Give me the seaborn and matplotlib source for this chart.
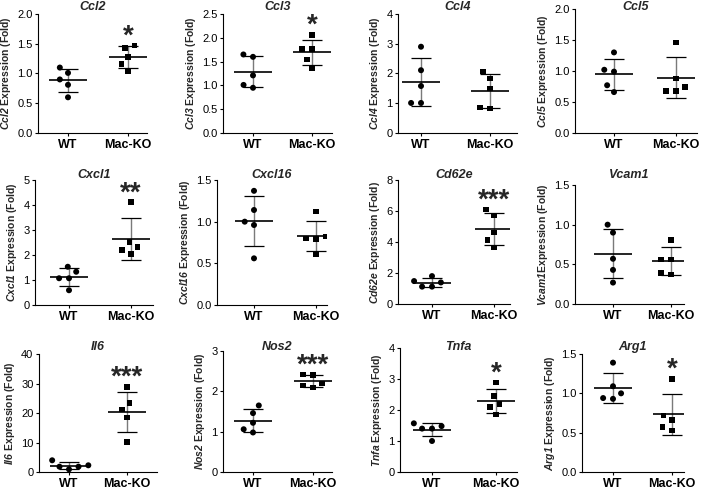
import numpy as np
import pandas as pd
import matplotlib
matplotlib.use('Agg')
import matplotlib.pyplot as plt
import seaborn as sns

# Gene names and significance marks
genes = ['Ccl2', 'Ccl3', 'Ccl4', 'Ccl5',
         'Cxcl1', 'Cxcl16', 'Cd62e', 'Vcam1',
         'Il6', 'Nos2', 'Tnfa', 'Arg1']
stars = ['*', '*', '', '', '**', '', '***', '', '***', '***', '*', '*']
groups = ['WT', 'Mac-KO']

# Fold expression values (5 mice per group)
ccl2_wt = [1.01, 1.10, 0.90, 0.81, 0.60]
ccl2_ko = [1.47, 1.43, 1.28, 1.16, 1.04]
ccl3_wt = [1.60, 1.65, 1.21, 0.95, 1.01]
ccl3_ko = [2.06, 1.76, 1.76, 1.54, 1.37]
ccl4_wt = [2.90, 2.11, 1.58, 1.01, 1.01]
ccl4_ko = [2.06, 1.83, 1.49, 0.82, 0.85]
ccl5_wt = [1.30, 1.02, 0.99, 0.77, 0.66]
ccl5_ko = [1.46, 0.88, 0.74, 0.68, 0.68]
cxcl1_wt = [1.53, 1.33, 1.07, 1.07, 0.59]
cxcl1_ko = [4.11, 2.53, 2.31, 2.20, 2.03]
cxcl16_wt = [1.37, 1.14, 1.00, 0.96, 0.56]
cxcl16_ko = [1.12, 0.80, 0.79, 0.82, 0.61]
cd62e_wt = [1.80, 1.39, 1.48, 1.12, 1.12]
cd62e_ko = [6.09, 5.71, 4.61, 4.12, 3.65]
vcam1_wt = [1.00, 0.90, 0.57, 0.43, 0.27]
vcam1_ko = [0.81, 0.56, 0.56, 0.37, 0.39]
il6_wt = [3.97, 1.81, 0.91, 1.81, 2.27]
il6_ko = [28.8, 23.3, 21.2, 18.4, 10.2]
nos2_wt = [1.65, 1.46, 1.22, 0.98, 1.06]
nos2_ko = [2.42, 2.40, 2.19, 2.10, 2.14]
tnfa_wt = [1.57, 1.40, 1.40, 1.48, 1.00]
tnfa_ko = [2.88, 2.45, 2.19, 2.10, 1.86]
arg1_wt = [1.39, 1.09, 1.00, 0.93, 0.94]
arg1_ko = [1.18, 0.72, 0.66, 0.57, 0.53]

wt_values = [ccl2_wt, ccl3_wt, ccl4_wt, ccl5_wt, cxcl1_wt, cxcl16_wt,
             cd62e_wt, vcam1_wt, il6_wt, nos2_wt, tnfa_wt, arg1_wt]
ko_values = [ccl2_ko, ccl3_ko, ccl4_ko, ccl5_ko, cxcl1_ko, cxcl16_ko,
             cd62e_ko, vcam1_ko, il6_ko, nos2_ko, tnfa_ko, arg1_ko]

# y axis ranges and tick steps
y_max = [2.0, 2.5, 4, 2.0, 5, 1.5, 8, 1.5, 40, 3, 4, 1.5]
y_step = [0.5, 0.5, 1, 0.5, 1, 0.5, 2, 0.5, 10, 1, 1, 0.5]

# panel boxes in pixels: left, top, right, bottom, WT centre, KO centre
boxes = [
    (38, 14, 147, 133, 68, 128),
    (223, 14, 332, 133, 253, 312),
    (398, 14, 517, 133, 421, 490),
    (575, 9, 697, 133, 614, 676),
    (35, 180, 153, 305, 69, 131),
    (217, 180, 327, 305, 254, 316),
    (398, 180, 510, 304, 432, 494),
    (575, 185, 684, 304, 613, 671),
    (39, 354, 157, 472, 69, 127),
    (223, 351, 332, 472, 253, 313),
    (400, 348, 517, 472, 432, 496),
    (582, 354, 684, 472, 613, 672),
]
# title centre height (px from top) for each row
title_y = [6.5, 175, 347]

sns.set_style('ticks')
plt.rcParams['font.family'] = ['Liberation Sans', 'DejaVu Sans']
plt.rcParams['mathtext.fontset'] = 'custom'
plt.rcParams['mathtext.rm'] = 'Liberation Sans'
plt.rcParams['mathtext.bf'] = 'Liberation Sans:bold'
plt.rcParams['mathtext.it'] = 'Liberation Sans:italic'
plt.rcParams['mathtext.bfit'] = 'Liberation Sans:italic:bold'

W, H = 708, 490
fig = plt.figure(figsize=(W / 100, H / 100), dpi=100)

for i, gene in enumerate(genes):
    l, t, r, b, xw, xk = boxes[i]
    ax = fig.add_axes([l / W, 1 - b / H, (r - l) / W, (b - t) / H])
    wt, ko = wt_values[i], ko_values[i]
    df = pd.DataFrame({'group': ['WT'] * len(wt) + ['Mac-KO'] * len(ko),
                       'value': wt + ko})

    # invisible edge widens the swarm spacing without enlarging the markers
    sns.swarmplot(data=df[df['group'] == 'WT'], x='group', y='value', order=groups,
                  marker='o', color='black', size=4.3, linewidth=2.5, edgecolor='none', ax=ax)
    sns.swarmplot(data=df[df['group'] == 'Mac-KO'], x='group', y='value', order=groups,
                  marker='s', color='black', size=4.0, linewidth=2.8, edgecolor='none', ax=ax)

    # mean +/- SD
    unit = xk - xw
    stats = df.groupby('group')['value'].agg(['mean', 'std'])
    for j, g in enumerate(groups):
        m, s = stats.loc[g, 'mean'], stats.loc[g, 'std']
        ax.vlines(j, m - s, m + s, color='#7a7a7a', lw=1.0, zorder=1)
        ax.hlines([m - s, m + s], j - 10 / unit, j + 10 / unit, color='black', lw=0.9, zorder=3)
        ax.hlines(m, j - 19 / unit, j + 19 / unit, color='black', lw=1.2, zorder=3)

    if stars[i]:
        ax.annotate(stars[i], xy=(1, max(ko)), xytext=(0, 1.5), textcoords='offset points',
                    ha='center', va='baseline', fontsize=20, fontweight='bold')

    ax.set_xlim((l - xw) / unit, (r - xw) / unit)
    ax.set_ylim(0, y_max[i])
    ticks = np.arange(0, y_max[i] + y_step[i] / 2, y_step[i])
    ax.set_yticks(ticks)
    if y_step[i] < 1:
        ax.set_yticklabels([f'{v:.1f}' for v in ticks])
    else:
        ax.set_yticklabels([f'{v:.0f}' for v in ticks])

    ax.set_xlabel('')
    sep = '' if gene == 'Vcam1' else ' '
    ax.set_ylabel(r'$\mathbfit{' + gene + '}$' + sep + 'Expression (Fold)',
                  fontsize=7.5, fontweight='bold', labelpad=3)
    fig.text((l + r) / 2 / W, 1 - title_y[i // 4] / H, gene, ha='center', va='center',
             fontsize=9, fontweight='bold', fontstyle='italic')

    for lab in ax.get_xticklabels():
        lab.set_fontweight('bold')
        lab.set_fontsize(9)
    ax.tick_params(axis='y', labelsize=8, length=2.5, width=0.8, pad=1.5, colors='black')
    ax.tick_params(axis='x', length=2.5, width=0.8, pad=2, colors='black')
    sns.despine(ax=ax)
    ax.spines['left'].set_linewidth(0.8)
    ax.spines['bottom'].set_linewidth(0.8)
    ax.spines['left'].set_color('black')
    ax.spines['bottom'].set_color('black')

fig.savefig('out.png', dpi=100)
